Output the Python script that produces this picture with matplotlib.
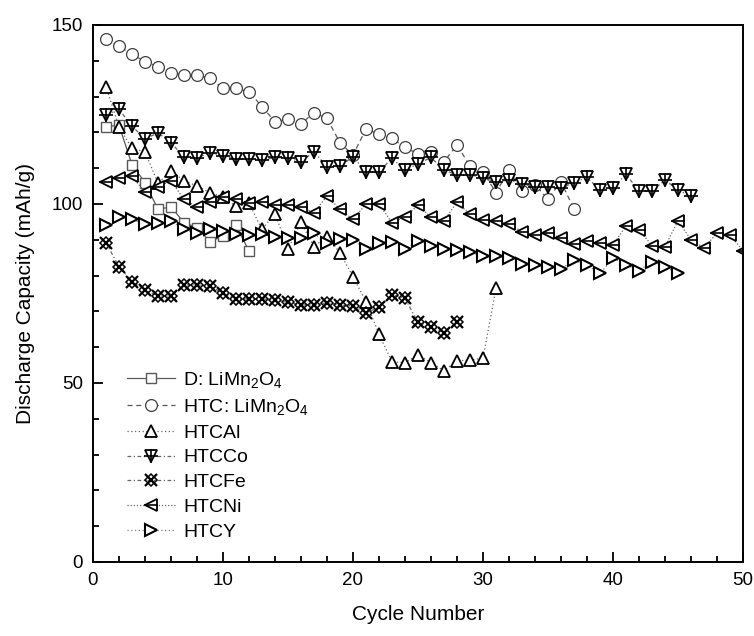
import matplotlib
matplotlib.use("Agg")
import matplotlib.pyplot as plt
import numpy as np

plt.rcParams['font.family'] = ['Liberation Sans', 'DejaVu Sans']
plt.rcParams['mathtext.default'] = 'regular'

# valeurs (capacité de décharge, mAh/g)
d_limn = [121.6, 122.0, 111.0, 106.0, 98.5, 99.2, 94.8, 93.4, 89.5, 91.0, 94.0, 86.9]
htc_limn = [146.0, 144.1, 141.8, 139.8, 138.4, 136.7, 136.0, 136.0, 135.1, 132.3,
            132.3, 131.4, 127.2, 123.0, 123.7, 122.4, 125.5, 123.9, 117.1, 113.7,
            120.9, 119.5, 118.3, 115.8, 114.0, 114.6, 111.8, 116.5, 110.6, 109.0,
            103.2, 109.4, 103.5, 105.3, 101.4, 106.2, 98.6]
htc_al = [132.8, 121.6, 115.5, 114.6, 105.8, 109.2, 106.5, 105.0, 103.2, 102.0,
          99.3, 100.2, 92.9, 97.3, 87.4, 94.9, 88.1, 90.9, 86.4, 79.7,
          72.7, 63.7, 55.9, 55.7, 57.8, 55.7, 53.4, 56.2, 56.4, 56.9, 76.4]
htc_co = [124.9, 126.4, 121.8, 118.1, 119.9, 117.1, 113.2, 112.9, 114.3, 113.4,
          112.5, 112.5, 112.2, 113.0, 112.9, 111.8, 114.6, 110.4, 110.6, 113.2,
          109.0, 109.0, 112.8, 109.5, 111.2, 113.0, 109.5, 108.1, 108.1, 107.3,
          106.1, 106.7, 105.6, 104.8, 104.7, 104.4, 106.0, 107.4, 103.9, 104.4,
          108.3, 103.6, 103.6, 106.7, 103.9, 102.2]
htc_fe = [89.2, 82.5, 78.3, 76.0, 74.3, 74.3, 77.4, 77.4, 77.1, 75.1,
          73.4, 73.5, 73.5, 73.2, 72.5, 71.8, 71.8, 72.4, 71.8, 71.5,
          69.6, 71.1, 74.6, 73.7, 66.9, 65.7, 64.1, 67.1]
htc_ni = [106.2, 107.2, 107.7, 103.3, 104.8, 106.5, 101.3, 99.2, 100.5, 101.9,
          101.3, 100.4, 100.5, 99.7, 99.7, 99.1, 97.6, 102.2, 98.5, 95.7,
          100.0, 100.0, 94.8, 96.3, 99.7, 96.3, 95.3, 100.5, 97.1, 95.4,
          95.3, 94.4, 92.3, 91.3, 91.8, 90.6, 88.9, 89.6, 89.1, 88.5,
          93.9, 92.8, 88.4, 88.1, 95.3, 90.0, 87.7, 91.9, 91.3, 87.0]
htc_y = [94.0, 96.4, 95.7, 94.3, 94.6, 95.3, 92.9, 91.8, 92.9, 92.5,
         91.5, 91.3, 91.5, 90.8, 90.5, 90.6, 91.8, 89.0, 90.1, 89.9,
         87.3, 89.2, 89.5, 87.3, 89.8, 88.4, 87.4, 87.2, 86.5, 85.5,
         85.5, 84.8, 83.2, 83.0, 82.3, 81.8, 84.3, 82.9, 80.6, 84.8,
         83.0, 81.4, 83.9, 82.5, 80.6]

fig = plt.figure(figsize=(7.54, 6.36), dpi=100)
ax = fig.add_axes([0.1233, 0.1164, 0.8621, 0.8443])

def cyc(v):
    return np.arange(1, len(v) + 1)

# D: ligne pleine, carrés gris
l_d, = ax.plot(cyc(d_limn), d_limn, '-', color='0.35', lw=0.9, marker='s', ms=7,
               mfc='white', mec='0.35', mew=1.0)
# HTC : tirets, cercles
l_htc, = ax.plot(cyc(htc_limn), htc_limn, ls=(0, (4, 3)), color='0.35', lw=0.9, marker='o',
                 ms=8.5, mfc='white', mec='0.25', mew=0.9)
# HTCAl : pointillés, triangles
l_al, = ax.plot(cyc(htc_al), htc_al, ls=(0, (1, 2)), color='0.4', lw=0.9, marker='^', ms=9,
                mfc='white', mec='black', mew=1.3)
# HTCCo : triangle bas + croix
l_co, = ax.plot(cyc(htc_co), htc_co, ls=(0, (3, 2, 1, 2)), color='0.4', lw=0.9, marker='v',
                ms=9, mfc='white', mec='black', mew=1.3)
l_co2, = ax.plot(cyc(htc_co), htc_co, ls='none', marker='+', ms=10, mec='black', mew=1.2)
# HTCFe : x + losange
l_fe, = ax.plot(cyc(htc_fe), htc_fe, ls=(0, (3, 2, 1, 2)), color='0.4', lw=0.9, marker='x',
                ms=9, mec='black', mew=1.6)
l_fe2, = ax.plot(cyc(htc_fe), htc_fe, ls='none', marker='D', ms=6, mfc='none',
                 mec='black', mew=1.1)
# HTCNi : triangle gauche + trait
l_ni, = ax.plot(cyc(htc_ni), htc_ni, ls=(0, (1, 1.5)), color='0.4', lw=0.9, marker='<',
                ms=9, mfc='white', mec='black', mew=1.3)
l_ni2, = ax.plot(cyc(htc_ni), htc_ni, ls='none', marker='_', ms=10, mec='black', mew=1.2)
# HTCY : triangle droite
l_y, = ax.plot(cyc(htc_y), htc_y, ls=(0, (1, 2)), color='0.5', lw=0.9, marker='>',
               ms=9, mfc='white', mec='black', mew=1.5)

ax.set_xlim(0, 50)
ax.set_ylim(0, 150)
ax.set_xticks(np.arange(0, 51, 10))
ax.set_xticks(np.arange(0, 51, 2), minor=True)
ax.set_yticks([0, 50, 100, 150])
ax.set_yticks(np.arange(0, 151, 10), minor=True)
ax.tick_params(which='both', direction='in', top=False, right=False, width=1.3,
               labelsize=13.5, pad=7)
ax.tick_params(which='major', length=7)
ax.tick_params(which='minor', length=4)
for s in ax.spines.values():
    s.set_linewidth(1.4)

ax.set_xlabel("Cycle Number", fontsize=15, labelpad=12)
ax.set_ylabel("Discharge Capacity (mAh/g)", fontsize=15, labelpad=12)

handles = [l_d, l_htc, l_al, (l_co, l_co2), (l_fe, l_fe2), (l_ni, l_ni2), l_y]
labels = ["D: LiMn$_2$O$_4$", "HTC: LiMn$_2$O$_4$", "HTCAl", "HTCCo", "HTCFe", "HTCNi", "HTCY"]
ax.legend(handles, labels, loc='lower left', bbox_to_anchor=(0.04, 0.025), frameon=False,
          fontsize=14, handlelength=2.5, handletextpad=0.4, labelspacing=0.37,
          borderaxespad=0)

fig.savefig("out.png", dpi=100)
